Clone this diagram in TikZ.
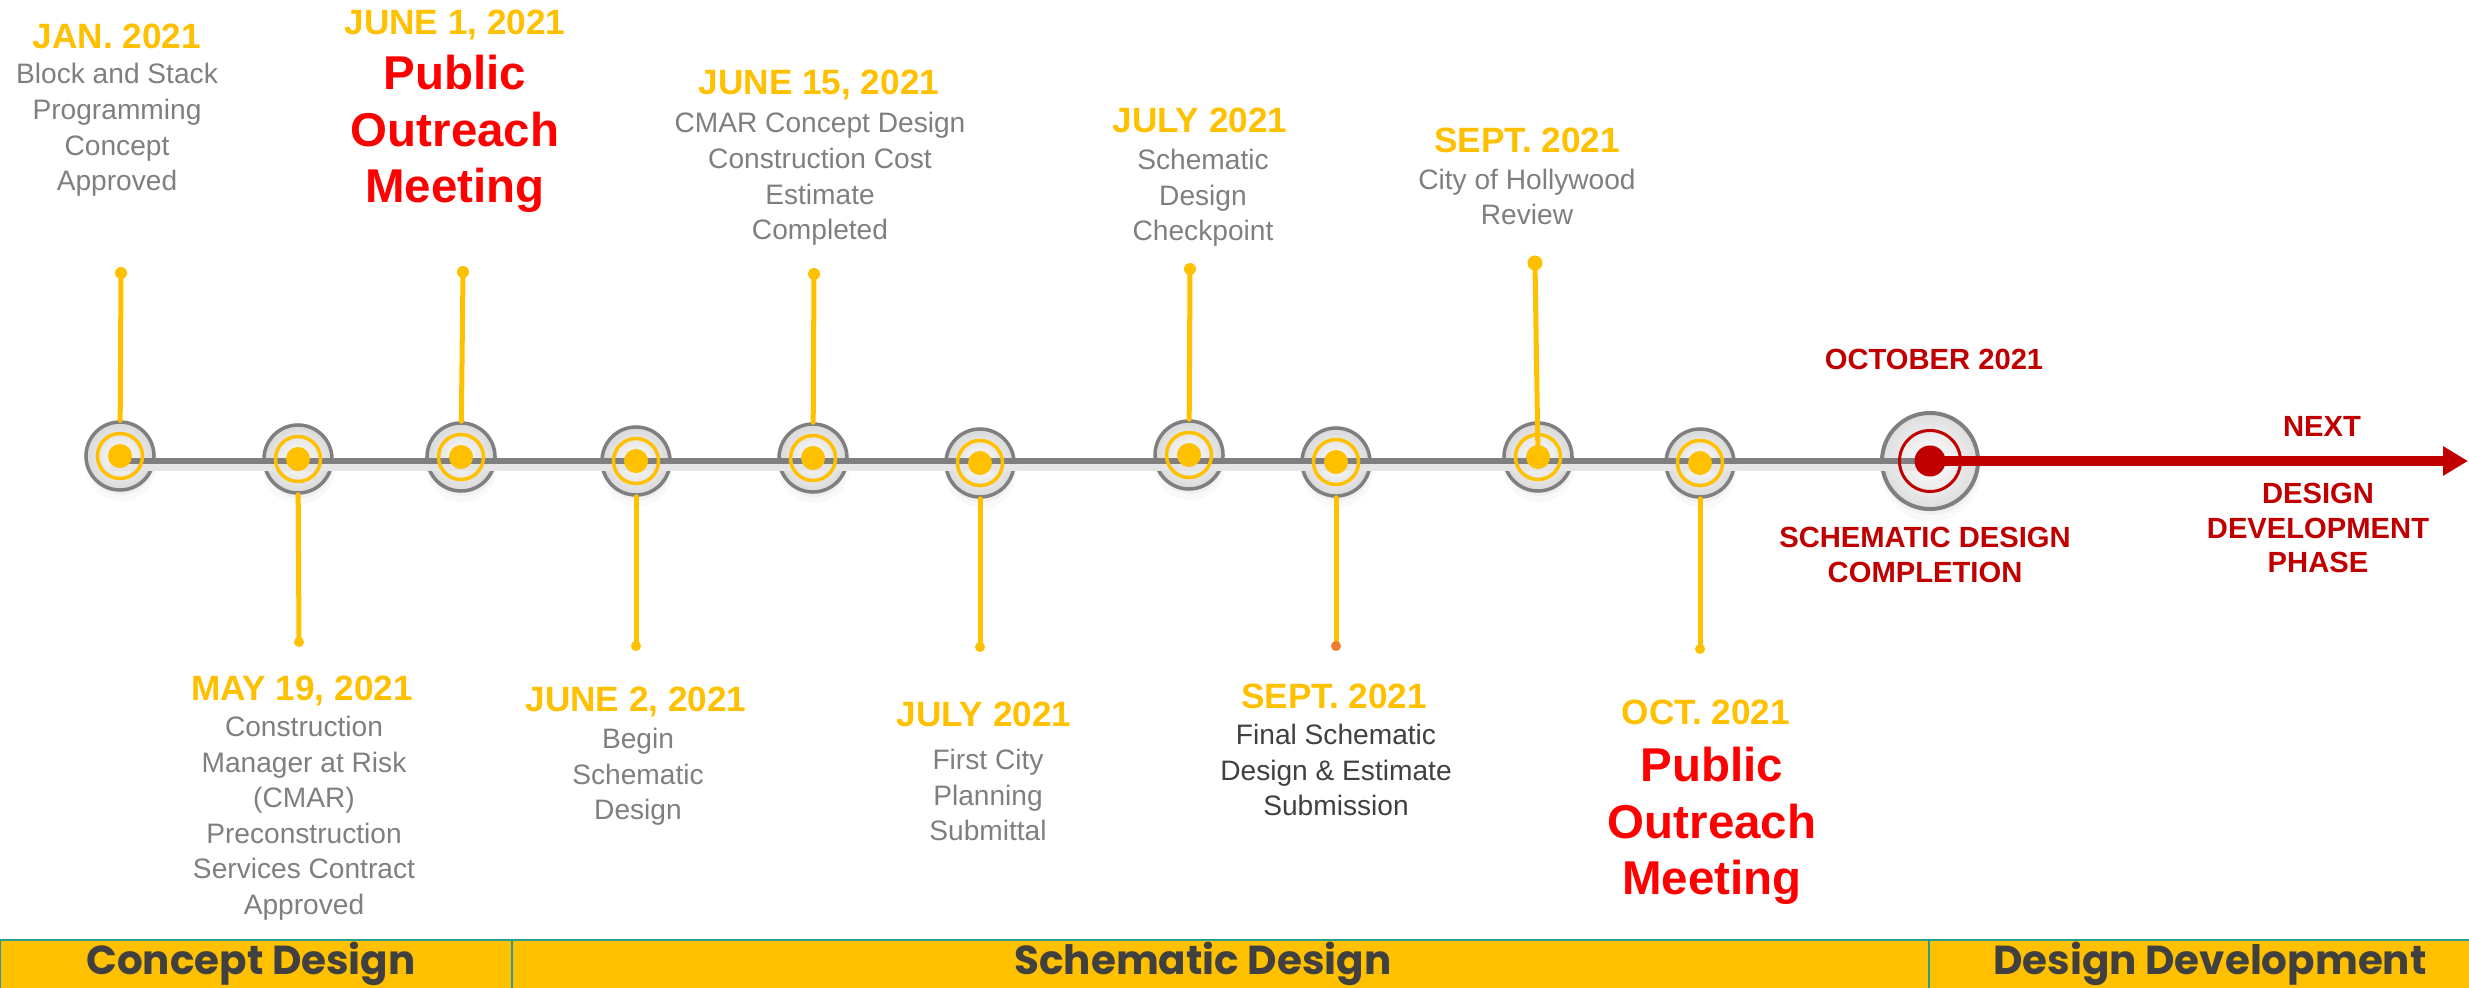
\documentclass[tikz,border=0pt]{standalone}
\usepackage{fontspec}
\setmainfont{Liberation Sans}
\newfontfamily\barfont{Poppins}
\usetikzlibrary{arrows.meta,shadows}
\definecolor{gold}{HTML}{FFC000}
\definecolor{ringgray}{HTML}{7F7F7F}
\definecolor{notedark}{HTML}{404040}
\definecolor{meetred}{HTML}{FF0000}
\definecolor{alertred}{HTML}{C00000}
\definecolor{barline}{HTML}{2A9D8F}
\definecolor{lastdot}{HTML}{ED7D31}

\begin{document}
\begin{tikzpicture}[x=0.01cm,y=-0.01cm,line cap=round,line join=round,
  ring/.style={circle,draw=ringgray,line width=0.035cm,minimum size=0.68cm,inner sep=0pt,inner color=white,outer color=black!15,drop shadow={shadow xshift=0.01cm,shadow yshift=-0.09cm,shadow scale=1.05,opacity=0.05},drop shadow={shadow xshift=0.01cm,shadow yshift=-0.05cm,opacity=0.07}},
  goalring/.style={circle,draw=ringgray,line width=0.04cm,minimum size=0.96cm,inner sep=0pt,inner color=white,outer color=black!13,drop shadow={shadow xshift=0.01cm,shadow yshift=-0.1cm,shadow scale=1.04,opacity=0.05},drop shadow={shadow xshift=0.01cm,shadow yshift=-0.06cm,opacity=0.07}},
  yring/.style={draw=gold,line width=0.035cm},
  stemline/.style={draw=gold,line width=0.05cm},
  axisline/.style={draw=ringgray,line width=0.053cm,preaction={draw=black!10,line width=0.07cm,transform canvas={yshift=-0.06cm}}},
  datelabel/.style={font=\bfseries\fontsize{10}{12}\selectfont,text=gold,inner sep=0pt},
  notelabel/.style={font=\fontsize{8}{10.1}\selectfont,text=ringgray,align=center,inner sep=0pt},
  meetlabel/.style={font=\bfseries\fontsize{13.5}{16.1}\selectfont,text=meetred,align=center,inner sep=0pt},
  alertlabel/.style={font=\bfseries\fontsize{8.3}{9.9}\selectfont,text=alertred,align=center,inner sep=0pt},
  phasebar/.style={draw=barline,line width=0.025cm,fill=gold},
  phaselabel/.style={font=\barfont\bfseries\fontsize{11.5}{12}\selectfont,text=notedark,inner sep=0pt}]
\useasboundingbox (0,0) rectangle (2469,988);

\draw[phasebar] (0,940) rectangle (512,990);
\draw[phasebar] (512,940) rectangle (1929,990);
\draw[phasebar] (1929,940) rectangle (2472,990);
\node[phaselabel] (p1) at (251,964) {Concept Design};
\node[phaselabel] (p2) at (1203,964) {Schematic Design};
\node[phaselabel] (p3) at (2210,964) {Design Development};

\node[ring] (m1) at (120,456) {};
\node[ring] (m2) at (298,459) {};
\node[ring] (m3) at (461,457) {};
\node[ring] (m4) at (636,461) {};
\node[ring] (m5) at (813,458) {};
\node[ring] (m6) at (980,463) {};
\node[ring] (m7) at (1189,455) {};
\node[ring] (m8) at (1336,462) {};
\node[ring] (m9) at (1538,457) {};
\node[ring] (m10) at (1700,463) {};
\node[goalring] (goal) at (1930,461) {};

\coordinate (start) at (113,461);
\coordinate (tip) at (2468,461);
\draw[axisline] (start) -- (goal.center);
\draw[alertred,line width=0.09cm,-{Triangle[length=0.25cm,width=0.28cm]}] (goal.center) -- (tip);

\coordinate (t1) at (121,273);
\coordinate (t2) at (299,642);
\coordinate (t3) at (463,272);
\coordinate (t4) at (636,646);
\coordinate (t5) at (814,274);
\coordinate (t6) at (980,647);
\coordinate (t7) at (1190,269);
\coordinate (t8) at (1336,646);
\coordinate (t9) at (1535,263);
\coordinate (t10) at (1700,649);
\draw[stemline] (m1) -- (t1);
\draw[stemline] (m2) -- (t2);
\draw[stemline] (m3) -- (t3);
\draw[stemline] (m4) -- (t4);
\draw[stemline] (m5) -- (t5);
\draw[stemline] (m6) -- (t6);
\draw[stemline] (m7) -- (t7);
\draw[stemline] (m8) -- (t8);
\draw[stemline] (m9.center) -- (t9);
\draw[stemline] (m10) -- (t10);
\fill[gold] (t1) circle (0.06cm);
\fill[gold] (t2) circle (0.05cm);
\fill[gold] (t3) circle (0.06cm);
\fill[gold] (t4) circle (0.05cm);
\fill[gold] (t5) circle (0.06cm);
\fill[gold] (t6) circle (0.05cm);
\fill[gold] (t7) circle (0.06cm);
\fill[lastdot] (t8) circle (0.05cm);
\fill[gold] (t9) circle (0.075cm);
\fill[gold] (t10) circle (0.05cm);

\draw[yring] (m1.center) circle (0.225cm); \fill[gold] (m1.center) circle (0.12cm);
\draw[yring] (m2.center) circle (0.225cm); \fill[gold] (m2.center) circle (0.12cm);
\draw[yring] (m3.center) circle (0.225cm); \fill[gold] (m3.center) circle (0.12cm);
\draw[yring] (m4.center) circle (0.225cm); \fill[gold] (m4.center) circle (0.12cm);
\draw[yring] (m5.center) circle (0.225cm); \fill[gold] (m5.center) circle (0.12cm);
\draw[yring] (m6.center) circle (0.225cm); \fill[gold] (m6.center) circle (0.12cm);
\draw[yring] (m7.center) circle (0.225cm); \fill[gold] (m7.center) circle (0.12cm);
\draw[yring] (m8.center) circle (0.225cm); \fill[gold] (m8.center) circle (0.12cm);
\draw[yring] (m9.center) circle (0.225cm); \fill[gold] (m9.center) circle (0.12cm);
\draw[yring] (m10.center) circle (0.225cm); \fill[gold] (m10.center) circle (0.12cm);
\draw[alertred,line width=0.03cm] (goal.center) circle (0.305cm);
\fill[alertred] (goal.center) circle (0.155cm);

\node[datelabel] (d1) at (117,36) {JAN. 2021};
\node[notelabel] (n1) at (117,130) {Block and Stack\\Programming\\Concept\\Approved};
\node[datelabel] (d3) at (455,25) {JUNE 1, 2021};
\node[meetlabel] (n3) at (455,134) {Public\\Outreach\\Meeting};
\node[datelabel] (d5) at (819,85) {JUNE 15, 2021};
\node[notelabel] (n5) at (820,179) {CMAR Concept Design\\Construction Cost\\Estimate\\Completed};
\node[datelabel] (d7) at (1200,120) {JULY 2021};
\node[notelabel] (n7) at (1203,198) {Schematic\\Design\\Checkpoint};
\node[datelabel] (d9) at (1527,140) {SEPT. 2021};
\node[notelabel] (n9) at (1527,197) {City of Hollywood\\Review};
\node[datelabel] (d2) at (302,691) {MAY 19, 2021};
\node[notelabel] (n2) at (304,818) {Construction\\Manager at Risk\\(CMAR)\\Preconstruction\\Services Contract\\Approved};
\node[datelabel] (d4) at (636,702) {JUNE 2, 2021};
\node[notelabel] (n4) at (638,777) {Begin\\Schematic\\Design};
\node[datelabel] (d6) at (984,714) {JULY 2021};
\node[notelabel] (n6) at (988,795) {First City\\Planning\\Submittal};
\node[datelabel] (d8) at (1334,696) {SEPT. 2021};
\node[notelabel,text=notedark] (n8) at (1336,770) {Final Schematic\\Design \& Estimate\\Submission};
\node[datelabel] (d10) at (1706,712) {OCT. 2021};
\node[meetlabel] (n10) at (1712,826) {Public\\Outreach\\Meeting};

\node[alertlabel] (oct) at (1934,359) {OCTOBER 2021};
\node[alertlabel] (done) at (1925,555) {SCHEMATIC DESIGN\\COMPLETION};
\node[alertlabel] (next) at (2322,426) {NEXT};
\node[alertlabel] (dd) at (2318,528) {DESIGN\\DEVELOPMENT\\PHASE};
\end{tikzpicture}
\end{document}
